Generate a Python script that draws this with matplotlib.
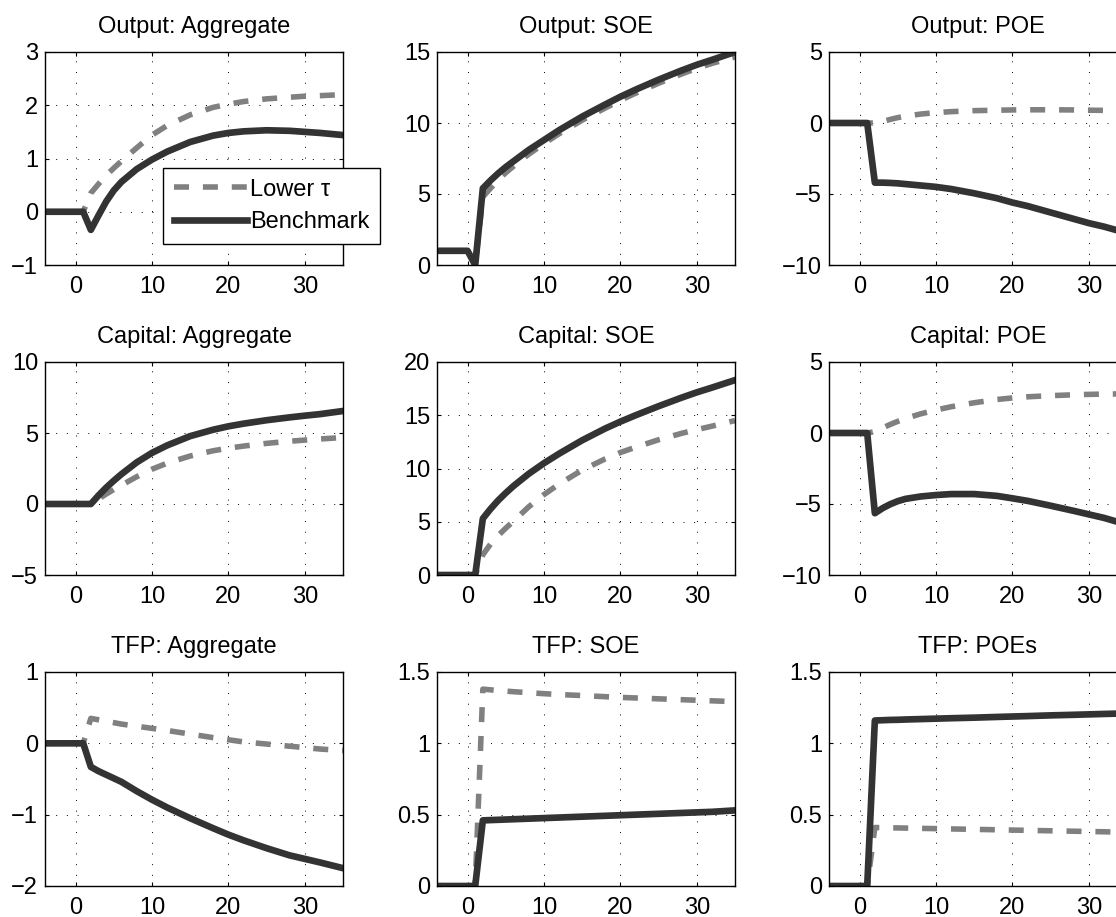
import matplotlib
matplotlib.use("Agg")
import matplotlib.pyplot as plt
from matplotlib.ticker import FuncFormatter

plt.rcParams['font.family'] = ['Liberation Sans', 'DejaVu Sans']
plt.rcParams['axes.unicode_minus'] = True

periods = [-4, 0, 1, 2, 3, 4, 5, 6, 8, 10, 12, 15, 18, 20, 22, 25, 28, 30, 32, 35]

out_agg_low = [0, 0, 0, 0.35, 0.52, 0.68, 0.82, 0.95, 1.2, 1.44, 1.62, 1.82, 1.96, 2.02, 2.07, 2.12, 2.15, 2.17, 2.18, 2.2]
out_agg_bench = [0, 0, 0, -0.34, -0.07, 0.19, 0.4, 0.56, 0.8, 0.98, 1.13, 1.31, 1.43, 1.48, 1.51, 1.53, 1.52, 1.50, 1.48, 1.44]

out_soe_low = [1, 1, 0, 4.8, 5.4, 6.0, 6.5, 6.95, 7.8, 8.55, 9.25, 10.2, 11.05, 11.6, 12.1, 12.8, 13.45, 13.85, 14.2, 14.65]
out_soe_bench = [1, 1, 0, 5.4, 5.95, 6.45, 6.9, 7.3, 8.1, 8.8, 9.5, 10.45, 11.3, 11.85, 12.35, 13.05, 13.7, 14.1, 14.45, 15.0]

out_poe_low = [0, 0, 0, 0.0, 0.1, 0.25, 0.38, 0.48, 0.63, 0.73, 0.8, 0.87, 0.9, 0.92, 0.93, 0.93, 0.92, 0.9, 0.89, 0.86]
out_poe_bench = [0, 0, 0, -4.2, -4.2, -4.22, -4.25, -4.3, -4.4, -4.5, -4.65, -4.95, -5.3, -5.6, -5.85, -6.3, -6.75, -7.05, -7.3, -7.75]

cap_agg_low = [0, 0, 0, 0, 0.35, 0.7, 1.02, 1.32, 1.92, 2.45, 2.88, 3.38, 3.75, 3.93, 4.08, 4.27, 4.42, 4.5, 4.58, 4.68]
cap_agg_bench = [0, 0, 0, 0, 0.6, 1.15, 1.64, 2.1, 2.93, 3.6, 4.13, 4.78, 5.23, 5.47, 5.66, 5.9, 6.1, 6.22, 6.33, 6.55]

cap_soe_low = [0, 0, 0, 1.9, 2.9, 3.7, 4.4, 5.05, 6.4, 7.55, 8.55, 9.85, 10.9, 11.5, 12.0, 12.7, 13.3, 13.65, 13.98, 14.5]
cap_soe_bench = [0, 0, 0, 5.3, 6.2, 7.0, 7.7, 8.35, 9.5, 10.5, 11.4, 12.65, 13.75, 14.4, 15.0, 15.85, 16.65, 17.15, 17.6, 18.3]

cap_poe_low = [0, 0, 0, 0.1, 0.35, 0.6, 0.82, 1.02, 1.35, 1.62, 1.85, 2.13, 2.36, 2.47, 2.55, 2.63, 2.69, 2.72, 2.74, 2.76]
cap_poe_bench = [0, 0, 0, -5.65, -5.3, -5.02, -4.8, -4.64, -4.47, -4.37, -4.3, -4.3, -4.43, -4.6, -4.78, -5.12, -5.48, -5.73, -5.98, -6.45]

tfp_agg_low = [0, 0, 0, 0.35, 0.33, 0.31, 0.29, 0.27, 0.24, 0.21, 0.18, 0.13, 0.08, 0.05, 0.02, -0.01, -0.04, -0.06, -0.08, -0.1]
tfp_agg_bench = [0, 0, 0, -0.33, -0.39, -0.44, -0.49, -0.54, -0.67, -0.79, -0.9, -1.05, -1.19, -1.28, -1.36, -1.47, -1.57, -1.62, -1.67, -1.75]

tfp_soe_low = [0, 0, 0, 1.38, 1.375, 1.37, 1.366, 1.362, 1.355, 1.348, 1.342, 1.335, 1.327, 1.322, 1.318, 1.312, 1.306, 1.302, 1.298, 1.292]
tfp_soe_bench = [0, 0, 0, 0.46, 0.462, 0.464, 0.466, 0.468, 0.472, 0.476, 0.48, 0.486, 0.492, 0.496, 0.5, 0.506, 0.512, 0.516, 0.52, 0.53]

tfp_poe_low = [0, 0, 0, 0.41, 0.409, 0.408, 0.407, 0.406, 0.404, 0.402, 0.4, 0.397, 0.394, 0.392, 0.39, 0.387, 0.384, 0.382, 0.38, 0.377]
tfp_poe_bench = [0, 0, 0, 1.16, 1.162, 1.164, 1.165, 1.167, 1.17, 1.173, 1.176, 1.18, 1.185, 1.188, 1.191, 1.196, 1.2, 1.203, 1.206, 1.21]

titles = ["Output: Aggregate", "Output: SOE", "Output: POE",
          "Capital: Aggregate", "Capital: SOE", "Capital: POE",
          "TFP: Aggregate", "TFP: SOE", "TFP: POEs"]
low_series = [out_agg_low, out_soe_low, out_poe_low,
              cap_agg_low, cap_soe_low, cap_poe_low,
              tfp_agg_low, tfp_soe_low, tfp_poe_low]
bench_series = [out_agg_bench, out_soe_bench, out_poe_bench,
                cap_agg_bench, cap_soe_bench, cap_poe_bench,
                tfp_agg_bench, tfp_soe_bench, tfp_poe_bench]
ylims = [(-1, 3), (0, 15), (-10, 5),
         (-5, 10), (0, 20), (-10, 5),
         (-2, 1), (0, 1.5), (0, 1.5)]
yticks = [[-1, 0, 1, 2, 3], [0, 5, 10, 15], [-10, -5, 0, 5],
          [-5, 0, 5, 10], [0, 5, 10, 15, 20], [-10, -5, 0, 5],
          [-2, -1, 0, 1], [0, 0.5, 1, 1.5], [0, 0.5, 1, 1.5]]
xticks = [0, 10, 20, 30]
legend_labels = ["Lower \u03c4", "Benchmark"]

W, H = 1116, 917
fig = plt.figure(figsize=(W / 100, H / 100), dpi=100)

col_left = [45, 437, 829]
ax_w = 298
row_top = [52, 362, 672]
row_bot = [265, 575, 886]

fs = 17
fmt = FuncFormatter(lambda v, p: ("%g" % v).replace("-", "\u2212"))

for i in range(9):
    r, c = divmod(i, 3)
    ax = fig.add_axes([col_left[c] / W, 1 - row_bot[r] / H, ax_w / W, (row_bot[r] - row_top[r]) / H])
    l1, = ax.plot(periods, low_series[i], color='#808080', lw=4.0, dashes=(2.7, 2.5),
                  label=legend_labels[0])
    l2, = ax.plot(periods, bench_series[i], color='#333333', lw=4.8,
                  solid_joinstyle='round', label=legend_labels[1])
    ax.set_xlim(-4, 35)
    ax.set_ylim(*ylims[i])
    ax.set_xticks(xticks)
    ax.set_yticks(yticks[i])
    ax.yaxis.set_major_formatter(fmt)
    ax.grid(True, color='black', linestyle=(0, (1, 10)), linewidth=0.7)
    ax.tick_params(direction='in', length=3, width=0.8, top=True, right=True,
                   labelsize=fs)
    ax.tick_params(axis='x', pad=8)
    ax.tick_params(axis='y', pad=5)
    for s in ax.spines.values():
        s.set_linewidth(1.0)
        s.set_color('black')
    ax.set_title(titles[i], fontsize=fs, pad=14)
    if i == 0:
        handles = [l1, l2]

leg = fig.legend(handles, legend_labels, loc='upper left',
                 bbox_to_anchor=(163 / W, 1 - 168 / H), fontsize=fs,
                 frameon=True, fancybox=False, framealpha=1, edgecolor='black',
                 handlelength=3.1, handletextpad=0.15, borderpad=0.45,
                 labelspacing=0.45, borderaxespad=0)
leg.get_frame().set_linewidth(1.0)

fig.savefig("out.png", dpi=100)
